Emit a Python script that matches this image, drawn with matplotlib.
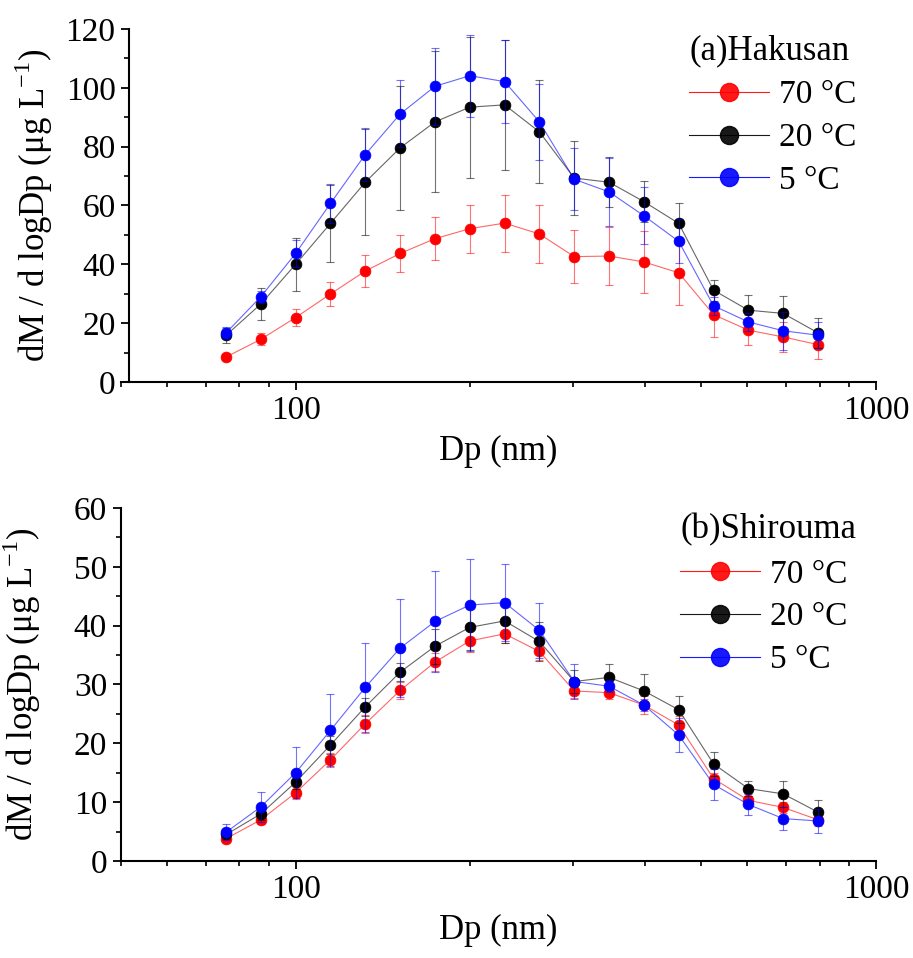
import numpy as np
import matplotlib
matplotlib.use("Agg")
import matplotlib.pyplot as plt

plt.rcParams['font.family'] = ['Liberation Serif', 'DejaVu Serif']
plt.rcParams['mathtext.fontset'] = 'custom'
plt.rcParams['mathtext.rm'] = 'Liberation Serif'

# particle diameter bins (nm)
dp = [75.9, 87.1, 100, 114.8, 131.8, 151.4, 173.8, 199.5, 229.1, 263.0,
      302.0, 346.7, 398.1, 457.1, 524.8, 602.6, 691.8, 794.3]
labels = ['70 °C', '20 °C', '5 °C']

# (a) Hakusan
hak_70 = [8.5, 14.5, 21.9, 29.9, 37.7, 43.7, 48.7, 52.1, 54.0, 50.3, 42.6, 42.8, 40.8, 37.1, 22.9, 17.6, 15.3, 12.7]
hak_70_err = [1.0, 2.0, 2.9, 4.0, 5.4, 6.3, 7.3, 8.2, 9.7, 10.0, 9.0, 10.0, 10.5, 11.0, 7.5, 5.0, 5.0, 5.0]
hak_20 = [15.9, 26.5, 40.0, 53.9, 67.9, 79.6, 88.4, 93.4, 94.2, 85.0, 69.3, 67.9, 61.3, 53.9, 31.2, 24.4, 23.3, 16.7]
hak_20_err = [2.5, 5.5, 9.0, 13.0, 18.0, 21.0, 24.0, 24.0, 22.0, 17.5, 12.7, 8.5, 7.0, 7.0, 3.6, 5.0, 6.0, 5.0]
hak_5 = [16.7, 29.0, 43.7, 60.7, 77.3, 91.1, 100.5, 104.1, 102.1, 88.4, 68.9, 64.6, 56.5, 47.8, 25.9, 20.4, 17.4, 15.9]
hak_5_err = [2.0, 2.0, 4.5, 6.6, 9.0, 11.4, 13.0, 14.0, 14.0, 13.0, 10.5, 11.6, 9.7, 7.5, 3.0, 3.0, 6.5, 4.5]

# (b) Shirouma
shi_70 = [3.8, 7.0, 11.6, 17.2, 23.3, 29.0, 33.8, 37.4, 38.6, 35.6, 28.9, 28.6, 26.5, 23.1, 14.0, 10.3, 9.1, 7.0]
shi_70_err = [0.6, 0.7, 1.0, 1.2, 1.5, 1.5, 1.5, 1.9, 1.5, 1.5, 1.2, 1.0, 1.5, 1.5, 1.0, 0.8, 1.0, 1.0]
shi_20 = [4.5, 8.0, 13.4, 19.7, 26.2, 32.1, 36.5, 39.7, 40.8, 37.3, 30.5, 31.2, 28.9, 25.7, 16.5, 12.3, 11.4, 8.3]
shi_20_err = [0.8, 1.0, 1.2, 1.5, 1.5, 1.5, 3.0, 3.9, 3.7, 3.3, 1.9, 2.2, 2.8, 2.3, 2.0, 1.3, 2.2, 2.1]
shi_5 = [4.9, 9.2, 15.0, 22.2, 29.5, 36.2, 40.7, 43.5, 43.9, 39.2, 30.5, 29.7, 26.5, 21.4, 13.0, 9.6, 7.2, 6.8]
shi_5_err = [1.4, 2.6, 4.3, 6.1, 7.5, 8.3, 8.6, 7.9, 6.5, 4.7, 3.0, 1.0, 1.0, 2.9, 2.7, 1.8, 1.9, 2.0]

colors = ['#ff0000', '#000000', '#0000ff']


def draw_panel(ax, series, errs, title, ymax, ystep, spine_x, label_x):
    for y, e, c, lab in zip(series, errs, colors, labels):
        ax.errorbar(dp, y, yerr=e, fmt='none', ecolor=c, elinewidth=0.8,
                    capsize=3, capthick=0.8, alpha=0.55)
        ax.plot(dp, y, '-', color=c, lw=0.8, alpha=0.6)
        ax.plot([], [], '-o', color=c, lw=0.8, ms=13, mec=c, label=lab)
        ax.plot(dp, y, 'o', color=c, ms=7.8, mec=c, mew=0.5)
    ax.set_xscale('log')
    ax.set_xlim(50, 1000)
    ax.set_ylim(0, ymax)
    ax.set_yticks(np.arange(0, ymax + 1, ystep))
    ax.set_yticks(np.arange(ystep / 2, ymax, ystep), minor=True)
    ax.set_xticks([100, 1000])
    ax.set_xticklabels(['100', '1000'])
    ax.xaxis.set_minor_formatter(matplotlib.ticker.NullFormatter())
    ax.spines['top'].set_visible(False)
    ax.spines['right'].set_visible(False)
    ax.spines['left'].set_position(('data', spine_x))
    for s in ['left', 'bottom']:
        ax.spines[s].set_linewidth(1.5)
    ax.tick_params(which='major', direction='out', length=6, width=1.3, labelsize=24, pad=4)
    ax.tick_params(which='minor', direction='out', length=3.5, width=1.2)
    ax.set_xlabel('Dp (nm)', fontsize=25, labelpad=6)
    ax.set_ylabel('dM / d logDp (μg L$^{\\mathregular{-1}}$)', fontsize=25)
    ax.yaxis.set_label_coords(label_x, 0.5)
    leg = ax.legend(loc='upper right', bbox_to_anchor=(1.005, 1.05), frameon=False,
                    fontsize=24, title=title, title_fontsize=25, alignment='left',
                    handlelength=2.4, handletextpad=0.3, labelspacing=0.37,
                    borderpad=0.2)
    for h in leg.legend_handles:
        h.set_alpha(0.9)


fig = plt.figure(figsize=(9.13, 9.58), dpi=100)
ax1 = fig.add_axes([0.1325, 0.6013, 0.827, 0.3685])
ax2 = fig.add_axes([0.1325, 0.1013, 0.827, 0.3685])

draw_panel(ax1, [hak_70, hak_20, hak_5], [hak_70_err, hak_20_err, hak_5_err],
           '(a)Hakusan', 120, 20, 51.7, -0.087)
draw_panel(ax2, [shi_70, shi_20, shi_5], [shi_70_err, shi_20_err, shi_5_err],
           '(b)Shirouma', 60, 10, 50, -0.103)

fig.savefig('out.png', dpi=100)
